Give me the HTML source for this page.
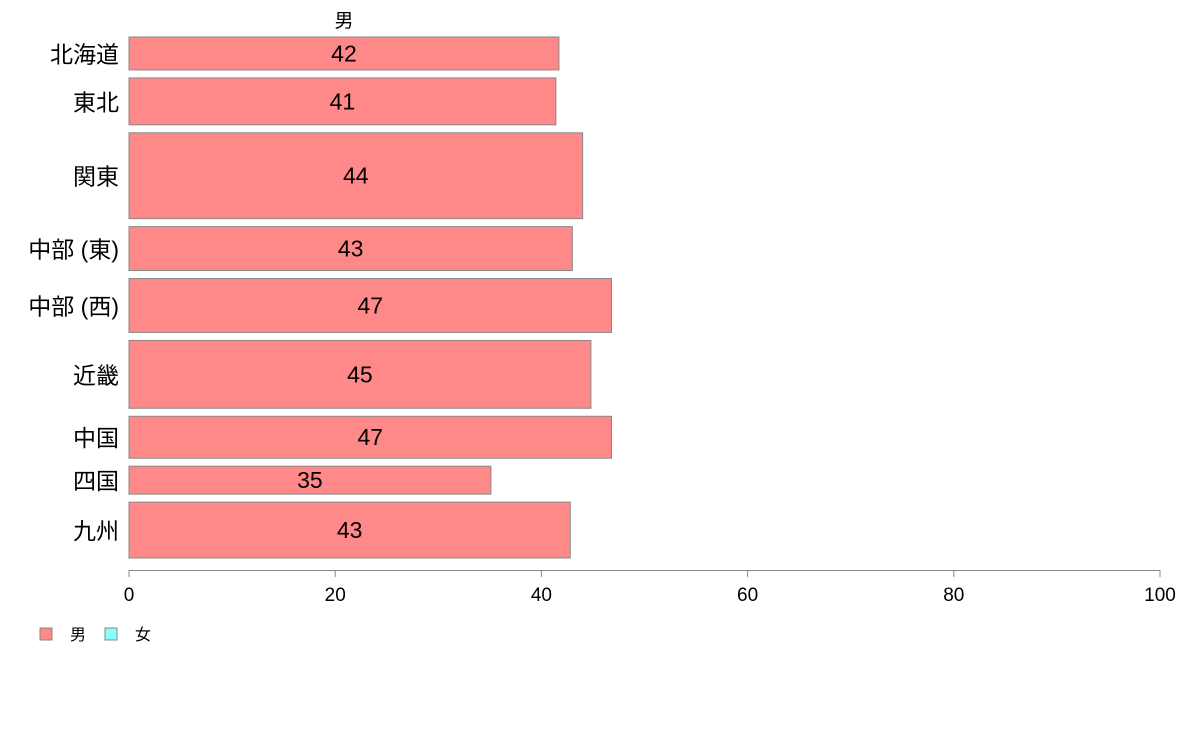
<!DOCTYPE html>
<html><head><meta charset="utf-8">
<style>
html,body{margin:0;padding:0;background:#fff;}
svg{display:block;font-family:"Liberation Sans","Noto Sans CJK JP",sans-serif;}
</style></head>
<body>
<svg id="chart" width="1188" height="736" viewBox="0 0 1188 736" xmlns="http://www.w3.org/2000/svg">
<text x="344" y="27" font-size="19" text-anchor="middle">男</text>
<g id="bars"></g>
<g id="axis"></g>
<g>
<rect x="40" y="628" width="12" height="12" fill="#ff8888" stroke="#888"/>
<text x="70" y="640" font-size="16">男</text>
<rect x="105" y="628" width="12" height="12" fill="#88ffff" stroke="#888"/>
<text x="135" y="640" font-size="16">女</text>
</g>
</svg>
<script>
const categories=["北海道","東北","関東","中部 (東)","中部 (西)","近畿","中国","四国","九州"];
const values=[41.7,41.4,44.0,43.0,46.8,44.8,46.8,35.1,42.8];
const labels=["42","41","44","43","47","45","47","35","43"];
const weights=[33,47,86,44,54,68,42,28,56];
const ticks=[0,20,40,60,80,100];
const NS="http://www.w3.org/2000/svg";
const x0=129,x1=1160,plotTop=37,plotBottom=558,gap=8;
const xs=v=>x0+(v/100)*(x1-x0);
const totalW=weights.reduce((a,b)=>a+b,0);
const avail=(plotBottom-plotTop)-gap*(categories.length-1);
const bars=document.getElementById('bars');
let yy=plotTop;
categories.forEach((c,i)=>{
 const h=weights[i]/totalW*avail;
 const r=document.createElementNS(NS,'rect');
 r.setAttribute('x',x0);r.setAttribute('y',yy);r.setAttribute('width',xs(values[i])-x0);r.setAttribute('height',h);
 r.setAttribute('fill','#ff8888');r.setAttribute('stroke','#888');r.setAttribute('stroke-width','1');
 
 
 bars.appendChild(r);
 const t=document.createElementNS(NS,'text');
 t.setAttribute('x',(x0+xs(values[i]))/2);t.setAttribute('y',yy+h/2+8);t.setAttribute('font-size','23');t.setAttribute('text-anchor','middle');
 t.textContent=labels[i];
 
 
 bars.appendChild(t);
 const l=document.createElementNS(NS,'text');
 l.setAttribute('x',119);l.setAttribute('y',yy+h/2+9);l.setAttribute('font-size','23');l.setAttribute('text-anchor','end');
 l.textContent=c;
 
 
 bars.appendChild(l);
 yy+=h+gap;
});
const ax=document.getElementById('axis');
const ln=document.createElementNS(NS,'line');
ln.setAttribute('x1',x0);ln.setAttribute('x2',x1);ln.setAttribute('y1',570.5);ln.setAttribute('y2',570.5);ln.setAttribute('stroke','#888');


ax.appendChild(ln);
ticks.forEach(v=>{
 const tk=document.createElementNS(NS,'line');
 tk.setAttribute('x1',xs(v));tk.setAttribute('x2',xs(v));tk.setAttribute('y1',570);tk.setAttribute('y2',577);tk.setAttribute('stroke','#888');
 
 
 ax.appendChild(tk);
 const tl=document.createElementNS(NS,'text');
 tl.setAttribute('x',xs(v));tl.setAttribute('y',601);tl.setAttribute('font-size','19');tl.setAttribute('text-anchor','middle');
 tl.textContent=v;
 
 
 ax.appendChild(tl);
});
</script>
</body></html>
